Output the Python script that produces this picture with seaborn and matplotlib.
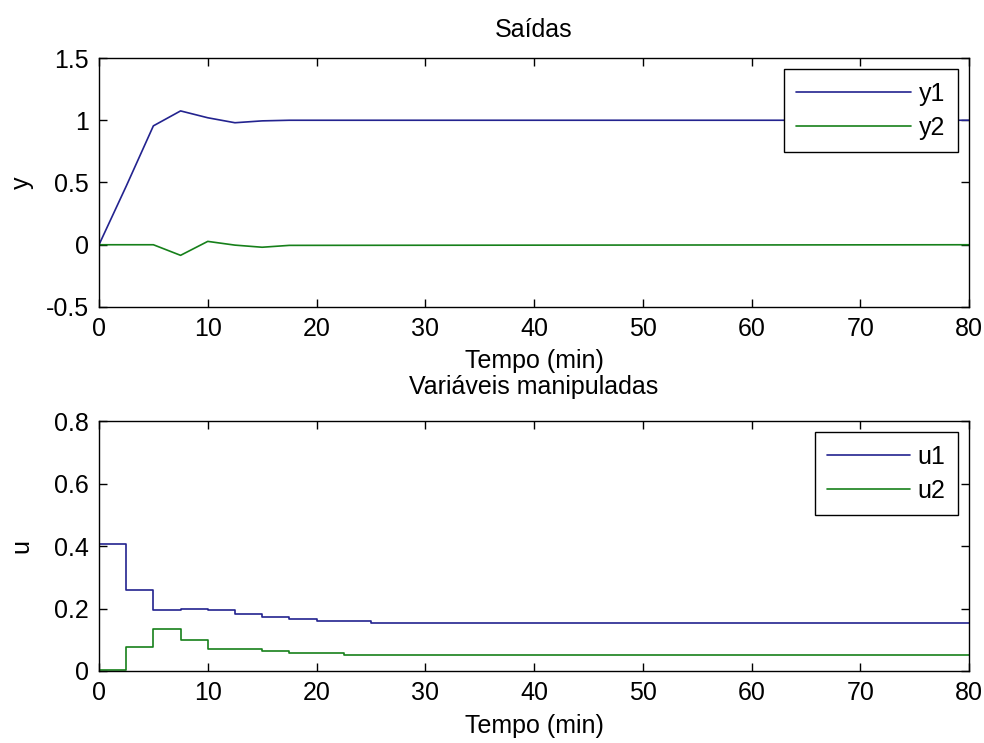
import matplotlib
matplotlib.use("Agg")
import matplotlib.pyplot as plt
import seaborn as sns
import numpy as np
import pandas as pd

# ---- data ----
t_out = [0, 2.5, 5, 7.5, 10, 12.5, 15, 17.5, 80]
y1 = [0.0, 0.47, 0.955, 1.075, 1.02, 0.98, 0.995, 1.0, 1.0]
y2 = [0.0, 0.0, 0.0, -0.085, 0.027, -0.003, -0.02, -0.005, 0.0]

t_u1 = [0, 2.5, 5, 7.5, 10, 12.5, 15, 17.5, 20, 25, 80]
u1 = [0.405, 0.258, 0.194, 0.200, 0.196, 0.181, 0.174, 0.166, 0.160, 0.155, 0.155]
t_u2 = [0, 2.5, 5, 7.5, 10, 15, 17.5, 22.5, 80]
u2 = [0.002, 0.078, 0.135, 0.098, 0.071, 0.064, 0.059, 0.052, 0.052]

xticks = [0, 10, 20, 30, 40, 50, 60, 70, 80]
xtick_labels = ["0", "10", "20", "30", "40", "50", "60", "70", "80"]
y_ticks_top = [-0.5, 0, 0.5, 1, 1.5]
y_ticklabels_top = ["-0.5", "0", "0.5", "1", "1.5"]
y_ticks_bot = [0, 0.2, 0.4, 0.6, 0.8]
y_ticklabels_bot = ["0", "0.2", "0.4", "0.6", "0.8"]

title_top = "Saídas"
title_bot = "Variáveis manipuladas"
xlabel = "Tempo (min)"

sns.set_style("white")
plt.rcParams["font.family"] = ["Liberation Sans", "DejaVu Sans"]
plt.rcParams["axes.unicode_minus"] = False
plt.rcParams["text.color"] = "black"
plt.rcParams["axes.labelcolor"] = "black"

BLUE = "#23238f"
GREEN = "#16801a"
FS = 18

fig = plt.figure(figsize=(9.84, 7.43), dpi=100)
ax1 = fig.add_axes([99/984, 1-307/743, 870/984, 249/743])
ax2 = fig.add_axes([99/984, 1-671/743, 870/984, 250/743])

df_out = pd.DataFrame({"t": t_out, "y1": y1, "y2": y2})
sns.lineplot(data=df_out, x="t", y="y1", ax=ax1, color=BLUE, lw=1.2, label="y1")
sns.lineplot(data=df_out, x="t", y="y2", ax=ax1, color=GREEN, lw=1.2, label="y2")

df_u1 = pd.DataFrame({"t": t_u1, "u": u1})
df_u2 = pd.DataFrame({"t": t_u2, "u": u2})
sns.lineplot(data=df_u1, x="t", y="u", ax=ax2, color=BLUE, lw=1.2, label="u1", drawstyle="steps-post")
sns.lineplot(data=df_u2, x="t", y="u", ax=ax2, color=GREEN, lw=1.2, label="u2", drawstyle="steps-post")

def style(ax, yt, ytl, ylim, ylabel, title, tpad, hl):
    ax.set_xlim(0, 80)
    ax.set_ylim(*ylim)
    ax.set_xticks(xticks)
    ax.set_xticklabels(xtick_labels)
    ax.set_yticks(yt)
    ax.set_yticklabels(ytl)
    ax.tick_params(direction="in", length=6, width=1, labelsize=FS, pad=7.5,
                   top=True, right=True, bottom=True, left=True, colors="black")
    for s in ax.spines.values():
        s.set_visible(True)
        s.set_color("black")
        s.set_linewidth(1.0)
    ax.set_xlabel(xlabel, fontsize=FS, color="black")
    ax.set_ylabel(ylabel, fontsize=FS, color="black")
    ax.xaxis.set_label_coords(0.5, -0.17)
    ax.yaxis.set_label_coords(-0.075, 0.5)
    ax.set_title(title, fontsize=FS, pad=tpad, color="black")
    leg = ax.legend(loc="upper right", fontsize=FS, frameon=True, fancybox=False,
                    framealpha=1, edgecolor="black", handlelength=hl,
                    borderaxespad=0.45, labelspacing=0.4, handletextpad=0.3,
                    borderpad=0.5)
    leg.get_frame().set_linewidth(1.0)

style(ax1, y_ticks_top, y_ticklabels_top, (-0.5, 1.5), "y", title_top, 15, 4.6)
style(ax2, y_ticks_bot, y_ticklabels_bot, (0, 0.8), "u", title_bot, 19.5, 3.3)

fig.savefig("out.png", dpi=100)
